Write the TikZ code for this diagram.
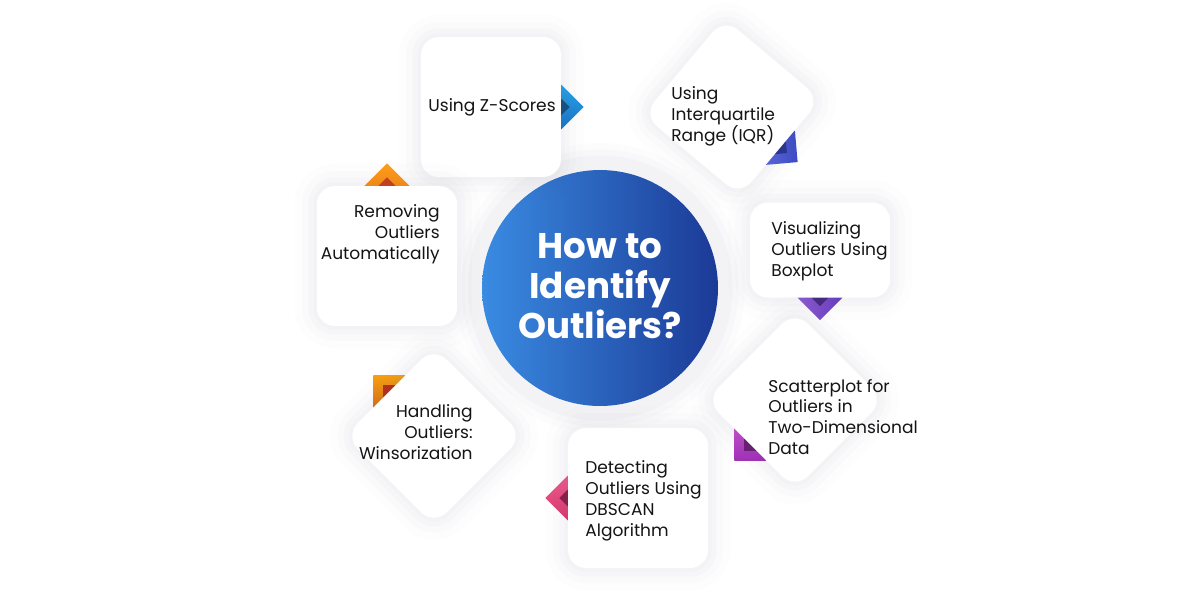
\documentclass[tikz,border=0pt]{standalone}
\usepackage{fontspec}
\setmainfont{Poppins}
\usetikzlibrary{shapes.geometric}
\pgfdeclarelayer{bg}
\pgfdeclarelayer{dia}
\pgfsetlayers{bg,dia,main}
\definecolor{glowc}{HTML}{5E5E86}
\definecolor{ringc}{HTML}{F3F3F6}
\definecolor{bluel}{HTML}{3A8BE2}
\definecolor{blued}{HTML}{1B3A96}
\definecolor{zA}{HTML}{29A3E8}\definecolor{zB}{HTML}{1874C6}\definecolor{zD}{HTML}{15507E}
\definecolor{rA}{HTML}{FF9E1C}\definecolor{rB}{HTML}{F27A0A}\definecolor{rD}{HTML}{C8401E}
\definecolor{iA}{HTML}{5A6ADF}\definecolor{iB}{HTML}{3D49C4}\definecolor{iD}{HTML}{2A3590}
\definecolor{vA}{HTML}{8E5AD4}\definecolor{vB}{HTML}{6A3CBF}\definecolor{vD}{HTML}{452A80}
\definecolor{sA}{HTML}{C64FCE}\definecolor{sB}{HTML}{A030B6}\definecolor{sD}{HTML}{6A2070}
\definecolor{dA}{HTML}{F2588A}\definecolor{dB}{HTML}{D83A6E}\definecolor{dD}{HTML}{8A1F4A}
\definecolor{hA}{HTML}{F7A012}\definecolor{hB}{HTML}{E27010}\definecolor{hD}{HTML}{B8301A}
\definecolor{txt}{HTML}{141414}
\begin{document}
\begin{tikzpicture}[x=0.02cm,y=-0.02cm,
  softglow/.style={
    preaction={draw=glowc, draw opacity=0.012, line width=0.9cm},
    preaction={draw=glowc, draw opacity=0.014, line width=0.6cm},
    preaction={draw=glowc, draw opacity=0.018, line width=0.35cm},
    preaction={draw=glowc, draw opacity=0.02, line width=0.15cm}},
  card/.style={rectangle, rounded corners=0.36cm, fill=white, inner sep=0,
    minimum width=2.8cm, minimum height=2.8cm, softglow},
  diam/.style={shape=diamond, aspect=1, minimum width=0.9cm, minimum height=0.9cm, inner sep=0},
  dkdiam/.style={shape=diamond, aspect=1, minimum width=0.34cm, minimum height=0.34cm, inner sep=0},
  lbl/.style={font=\fontsize{9.7}{11.9}\selectfont, text=txt, inner sep=0},
  title/.style={font=\fontsize{20.3}{22.7}\selectfont\bfseries, text=white, align=center, inner sep=0}
]
\useasboundingbox (0,0) rectangle (1200,603);
\begin{pgfonlayer}{bg}
\fill[white] (0,0) rectangle (1200,603);
\end{pgfonlayer}

% central circle
\node[circle, fill=ringc, minimum size=5.3cm, inner sep=0,
  preaction={draw=glowc, draw opacity=0.015, line width=0.5cm},
  preaction={draw=glowc, draw opacity=0.02, line width=0.25cm}] (ring) at (600,288) {};
\node[circle, minimum size=4.72cm, inner sep=0, left color=bluel, right color=blued] (hub) at (600,288) {};
\node[title] (ttl) at (600,286) {How to\\Identify\\Outliers?};

% cards
\node[card] (c1) at (491,107) {};
\node[card] (c2) at (387,256) {};
\node[card, minimum width=2.52cm, minimum height=2.52cm, rotate=-40] (c3) at (732,107) {};
\node[card, minimum height=1.9cm] (c4) at (820,250) {};
\node[card, minimum width=2.52cm, minimum height=2.52cm, rotate=45] (c5) at (795,400) {};
\node[card] (c6) at (638,498) {};
\node[card, minimum width=2.52cm, minimum height=2.52cm, rotate=45] (c7) at (434,436) {};

% diamonds behind the cards
\begin{pgfonlayer}{dia}
\node[diam, top color=zA, bottom color=zB] (d1) at (c1.east) {};
\node[dkdiam, fill=zD] (k1) at (c1.east) {};
\node[diam, top color=rA, bottom color=rB] (d2) at (c2.north) {};
\node[dkdiam, fill=rD] (k2) at (c2.north) {};
\node[diam, rotate=-40, left color=iA, right color=iB] (d3) at (c3.east) {};
\node[dkdiam, rotate=-40, fill=iD] (k3) at (c3.east) {};
\node[diam, left color=vA, right color=vB] (d4) at (c4.south) {};
\node[dkdiam, fill=vD] (k4) at (c4.south) {};
\node[diam, rotate=45, top color=sA, bottom color=sB] (d5) at (c5.west) {};
\node[dkdiam, rotate=45, fill=sD] (k5) at (c5.west) {};
\node[diam, top color=dA, bottom color=dB] (d6) at (c6.west) {};
\node[dkdiam, fill=dD] (k6) at (c6.west) {};
\node[diam, rotate=45, top color=hA, bottom color=hB] (d7) at (c7.north) {};
\node[dkdiam, rotate=45, fill=hD] (k7) at (c7.north) {};
\end{pgfonlayer}

% labels
\node[lbl, anchor=east] (t1) at (556,107) {Using Z-Scores};
\node[lbl, anchor=east, align=right] (t2) at (440,234) {Removing\\Outliers\\Automatically};
\node[lbl, anchor=west, align=left] (t3) at (671,116) {Using\\Interquartile\\Range (IQR)};
\node[lbl, anchor=west, align=left] (t4) at (771,251) {Visualizing\\Outliers Using\\Boxplot};
\node[lbl, anchor=west, align=left] (t5) at (768,417) {Scatterplot for\\Outliers in\\Two-Dimensional\\Data};
\node[lbl, anchor=west, align=left] (t6) at (585,501) {Detecting\\Outliers Using\\DBSCAN\\Algorithm};
\node[lbl, anchor=east, align=right] (t7) at (473,432) {Handling\\Outliers:\\Winsorization};
\end{tikzpicture}
\end{document}
